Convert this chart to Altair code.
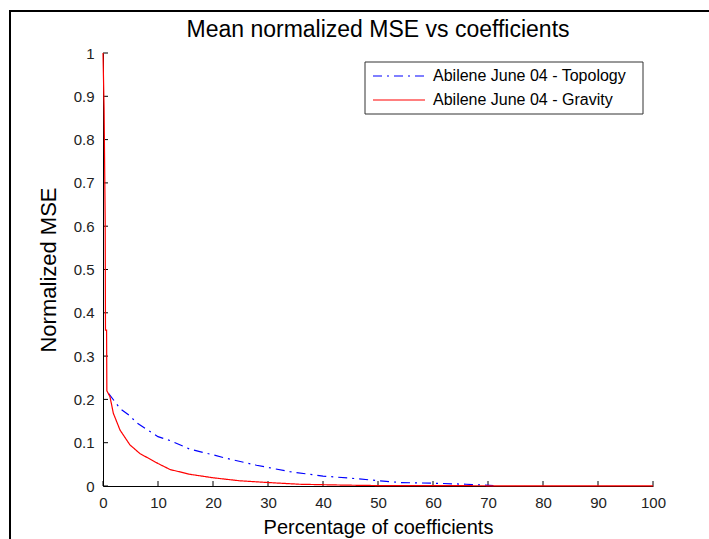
import altair as alt
import pandas as pd

chart_title = "Mean normalized MSE vs coefficients"
series_names = ["Abilene June 04 - Topology", "Abilene June 04 - Gravity"]
series_colors = ["#0000ff", "#ff0000"]
series_dash = [[9, 5, 2, 5], [1, 0]]

grav_x = [0, 0.2, 0.4, 0.45, 0.65, 0.7, 1.27, 1.88, 3.1, 4.9, 6.7, 10, 12.2, 15.8, 20, 24.9, 30, 35.8, 44, 50, 60, 70, 80, 90, 100]
grav_y = [1.0, 0.87, 0.61, 0.36, 0.36, 0.22, 0.206, 0.168, 0.129, 0.095, 0.075, 0.052, 0.038, 0.027, 0.019, 0.012, 0.008, 0.004, 0.002, 0.001, 0.001, 0.0005, 0.0003, 0.0002, 0.0001]

topo_x = [1.0, 3.1, 4.9, 6.1, 10, 12.2, 15.8, 20, 22.4, 27.9, 34, 40, 45, 50.4, 54, 61.3, 66, 71]
topo_y = [0.214, 0.179, 0.162, 0.146, 0.114, 0.105, 0.085, 0.072, 0.064, 0.048, 0.033, 0.023, 0.018, 0.012, 0.008, 0.006, 0.004, 0.001]

x_ticks = [0, 10, 20, 30, 40, 50, 60, 70, 80, 90, 100]
y_ticks = [0, 0.1, 0.2, 0.3, 0.4, 0.5, 0.6, 0.7, 0.8, 0.9, 1]

rows = []
for i, (a, b) in enumerate(zip(topo_x, topo_y)):
    rows.append({"series": series_names[0], "x": a, "y": b, "i": i})
for i, (a, b) in enumerate(zip(grav_x, grav_y)):
    rows.append({"series": series_names[1], "x": a, "y": b, "i": i})
df = pd.DataFrame(rows)

W, H = 550, 433
FONT = "Liberation Sans"

xscale = alt.Scale(domain=[0, 100], nice=False)
yscale = alt.Scale(domain=[0, 1], nice=False)

lines = alt.Chart(df).mark_line(strokeWidth=1.2).encode(
    x=alt.X("x:Q", scale=xscale, axis=alt.Axis(
        values=x_ticks, title="Percentage of coefficients", ticks=False, labelFlush=False,
        labelPadding=9, titlePadding=7, format="d")),
    y=alt.Y("y:Q", scale=yscale, axis=alt.Axis(
        values=y_ticks, title="Normalized MSE", ticks=False, format=".1~f", labelFlush=False,
        labelPadding=9, titlePadding=13, titleFontSize=22)),
    color=alt.Color("series:N", scale=alt.Scale(domain=series_names, range=series_colors), legend=None),
    strokeDash=alt.StrokeDash("series:N", scale=alt.Scale(domain=series_names, range=series_dash), legend=None),
    order="i:Q",
)

xt = alt.Chart(pd.DataFrame({"v": x_ticks})).mark_rule(color="#000", strokeWidth=1).encode(
    x=alt.X("v:Q", scale=xscale), y=alt.value(H), y2=alt.value(H - 5))
yt = alt.Chart(pd.DataFrame({"v": y_ticks})).mark_rule(color="#000", strokeWidth=1).encode(
    y=alt.Y("v:Q", scale=yscale), x=alt.value(0), x2=alt.value(5))

one = pd.DataFrame({"a": [0]})
frame = alt.Chart(one).mark_rect(filled=False, stroke="#000", strokeWidth=2).encode(
    x=alt.value(-93), x2=alt.value(700), y=alt.value(-42), y2=alt.value(600))

title_mark = alt.Chart(pd.DataFrame({"t": [chart_title]})).mark_text(
    align="center", baseline="alphabetic", font=FONT, fontSize=23, color="#000").encode(
    text="t:N", x=alt.value(W / 2), y=alt.value(-16))

# manual legend
leg_layers = [
    alt.Chart(one).mark_rect(fill="#fff", stroke="#333", strokeWidth=1).encode(
        x=alt.value(262), x2=alt.value(540), y=alt.value(9), y2=alt.value(61))
]
for k, name in enumerate(series_names):
    yy = 23 + 24 * k
    leg_layers.append(
        alt.Chart(one).mark_rule(color=series_colors[k], strokeWidth=1.2, strokeDash=series_dash[k]).encode(
            x=alt.value(270), x2=alt.value(322), y=alt.value(yy)))
    leg_layers.append(
        alt.Chart(pd.DataFrame({"t": [name]})).mark_text(
            align="left", baseline="middle", font=FONT, fontSize=16, color="#000").encode(
            text="t:N", x=alt.value(330), y=alt.value(yy)))

chart = alt.layer(frame, title_mark, xt, yt, lines, *leg_layers).properties(
    width=W, height=H,
    autosize=alt.AutoSizeParams(type="none"),
    padding={"left": 103, "top": 53, "right": 56, "bottom": 53},
    background="#ffffff",
).configure_view(stroke=None).configure_axis(
    labelFont=FONT, labelFontSize=15, labelColor="#222", titleFont=FONT, titleFontSize=20,
    titleFontWeight="normal", titleColor="#000", domainColor="#000", grid=False,
)

chart.save("out.html", embed_options={"renderer": "svg", "actions": False})
